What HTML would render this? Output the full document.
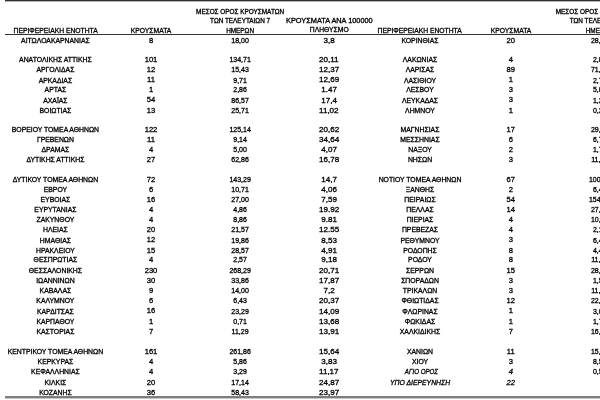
<!DOCTYPE html>
<html><head><meta charset="utf-8"><style>
html,body{margin:0;padding:0;background:#fff;}
body{filter:grayscale(1) blur(0.35px);width:600px;height:400px;overflow:hidden;position:relative;font-family:"Liberation Sans",sans-serif;color:#000;}
.t{position:absolute;width:300px;text-align:center;line-height:0;white-space:nowrap;height:0;}
.t span{display:inline-block;transform-origin:50% 50%;-webkit-text-stroke:0.3px #000;}
.i{font-style:italic;}
.ln{position:absolute;left:5px;right:0;}
</style></head><body>
<div class="ln" style="top:0;height:1px;background:#2e2e2e"></div>
<div class="ln" style="top:1px;height:1px;background:#b8b8b8"></div>
<div class="ln" style="top:34px;height:1px;background:#333"></div>
<div class="ln" style="top:396px;height:2px;background:#7e7e7e"></div>
<div class="ln" style="top:398px;height:1px;background:#c8c8c8"></div>
<div class="t" style="left:-94.60px;top:30.58px;font-size:6.7px"><span style="transform:scaleX(1.01)">ΠΕΡΙΦΕΡΕΙΑΚΗ ΕΝΟΤΗΤΑ</span></div>
<div class="t" style="left:1.00px;top:30.58px;font-size:6.7px"><span style="transform:scaleX(1.01)">ΚΡΟΥΣΜΑΤΑ</span></div>
<div class="t" style="left:90.10px;top:11.88px;font-size:6.4px"><span>ΜΕΣΟΣ ΟΡΟΣ ΚΡΟΥΣΜΑΤΩΝ</span></div>
<div class="t" style="left:90.10px;top:21.38px;font-size:6.4px"><span>ΤΩΝ ΤΕΛΕΥΤΑΙΩΝ 7</span></div>
<div class="t" style="left:90.10px;top:30.58px;font-size:6.4px"><span>ΗΜΕΡΩΝ</span></div>
<div class="t" style="left:179.30px;top:21.28px;font-size:6.7px"><span style="transform:scaleX(1.1)">ΚΡΟΥΣΜΑΤΑ ΑΝΑ 100000</span></div>
<div class="t" style="left:179.30px;top:30.48px;font-size:6.7px"><span style="transform:scaleX(1.01)">ΠΛΗΘΥΣΜΟ</span></div>
<div class="t" style="left:270.00px;top:30.58px;font-size:6.7px"><span style="transform:scaleX(1.01)">ΠΕΡΙΦΕΡΕΙΑΚΗ ΕΝΟΤΗΤΑ</span></div>
<div class="t" style="left:360.80px;top:30.58px;font-size:6.7px"><span style="transform:scaleX(1.01)">ΚΡΟΥΣΜΑΤΑ</span></div>
<div class="t" style="left:449.70px;top:11.88px;font-size:6.4px"><span>ΜΕΣΟΣ ΟΡΟΣ ΚΡΟΥΣΜΑΤΩΝ</span></div>
<div class="t" style="left:449.70px;top:21.38px;font-size:6.4px"><span>ΤΩΝ ΤΕΛΕΥΤΑΙΩΝ 7</span></div>
<div class="t" style="left:449.70px;top:30.58px;font-size:6.4px"><span>ΗΜΕΡΩΝ</span></div>
<div class="t" style="left:-94.60px;top:40.93px;font-size:6.85px"><span>ΑΙΤΩΛΟΑΚΑΡΝΑΝΙΑΣ</span></div>
<div class="t" style="left:1.00px;top:40.67px;font-size:7.6px"><span>8</span></div>
<div class="t" style="left:90.10px;top:40.87px;font-size:7.0px"><span>18,00</span></div>
<div class="t" style="left:179.30px;top:40.79px;font-size:7.25px"><span style="transform:scaleX(1.11)">3,8</span></div>
<div class="t" style="left:-94.60px;top:60.13px;font-size:6.85px"><span>ΑΝΑΤΟΛΙΚΗΣ ΑΤΤΙΚΗΣ</span></div>
<div class="t" style="left:1.00px;top:59.87px;font-size:7.6px"><span>101</span></div>
<div class="t" style="left:90.10px;top:60.07px;font-size:7.0px"><span>134,71</span></div>
<div class="t" style="left:179.30px;top:59.99px;font-size:7.25px"><span style="transform:scaleX(1.11)">20,11</span></div>
<div class="t" style="left:-94.60px;top:70.43px;font-size:6.85px"><span>ΑΡΓΟΛΙΔΑΣ</span></div>
<div class="t" style="left:1.00px;top:70.17px;font-size:7.6px"><span>12</span></div>
<div class="t" style="left:90.10px;top:70.37px;font-size:7.0px"><span>15,43</span></div>
<div class="t" style="left:179.30px;top:70.29px;font-size:7.25px"><span style="transform:scaleX(1.11)">12,37</span></div>
<div class="t" style="left:-94.60px;top:80.63px;font-size:6.85px"><span>ΑΡΚΑΔΙΑΣ</span></div>
<div class="t" style="left:1.00px;top:80.37px;font-size:7.6px"><span>11</span></div>
<div class="t" style="left:90.10px;top:80.57px;font-size:7.0px"><span>9,71</span></div>
<div class="t" style="left:179.30px;top:80.49px;font-size:7.25px"><span style="transform:scaleX(1.11)">12,69</span></div>
<div class="t" style="left:-94.60px;top:90.43px;font-size:6.85px"><span>ΑΡΤΑΣ</span></div>
<div class="t" style="left:1.00px;top:90.17px;font-size:7.6px"><span>1</span></div>
<div class="t" style="left:90.10px;top:90.37px;font-size:7.0px"><span>2,86</span></div>
<div class="t" style="left:179.30px;top:90.29px;font-size:7.25px"><span style="transform:scaleX(1.11)">1.47</span></div>
<div class="t" style="left:-94.60px;top:100.73px;font-size:6.85px"><span>ΑΧΑΪΑΣ</span></div>
<div class="t" style="left:1.00px;top:100.47px;font-size:7.6px"><span>54</span></div>
<div class="t" style="left:90.10px;top:100.67px;font-size:7.0px"><span>86,57</span></div>
<div class="t" style="left:179.30px;top:100.59px;font-size:7.25px"><span style="transform:scaleX(1.11)">17,4</span></div>
<div class="t" style="left:-94.60px;top:110.83px;font-size:6.85px"><span>ΒΟΙΩΤΙΑΣ</span></div>
<div class="t" style="left:1.00px;top:110.57px;font-size:7.6px"><span>13</span></div>
<div class="t" style="left:90.10px;top:110.77px;font-size:7.0px"><span>25,71</span></div>
<div class="t" style="left:179.30px;top:110.69px;font-size:7.25px"><span style="transform:scaleX(1.11)">11,02</span></div>
<div class="t" style="left:-94.60px;top:130.28px;font-size:6.85px"><span>ΒΟΡΕΙΟΥ ΤΟΜΕΑ ΑΘΗΝΩΝ</span></div>
<div class="t" style="left:1.00px;top:130.02px;font-size:7.6px"><span>122</span></div>
<div class="t" style="left:90.10px;top:130.22px;font-size:7.0px"><span>125,14</span></div>
<div class="t" style="left:179.30px;top:130.14px;font-size:7.25px"><span style="transform:scaleX(1.11)">20,62</span></div>
<div class="t" style="left:-94.60px;top:140.13px;font-size:6.85px"><span>ΓΡΕΒΕΝΩΝ</span></div>
<div class="t" style="left:1.00px;top:139.87px;font-size:7.6px"><span>11</span></div>
<div class="t" style="left:90.10px;top:140.07px;font-size:7.0px"><span>9,14</span></div>
<div class="t" style="left:179.30px;top:139.99px;font-size:7.25px"><span style="transform:scaleX(1.11)">34,64</span></div>
<div class="t" style="left:-94.60px;top:150.13px;font-size:6.85px"><span>ΔΡΑΜΑΣ</span></div>
<div class="t" style="left:1.00px;top:149.87px;font-size:7.6px"><span>4</span></div>
<div class="t" style="left:90.10px;top:150.07px;font-size:7.0px"><span>5,00</span></div>
<div class="t" style="left:179.30px;top:149.99px;font-size:7.25px"><span style="transform:scaleX(1.11)">4,07</span></div>
<div class="t" style="left:-94.60px;top:160.13px;font-size:6.85px"><span>ΔΥΤΙΚΗΣ ΑΤΤΙΚΗΣ</span></div>
<div class="t" style="left:1.00px;top:159.87px;font-size:7.6px"><span>27</span></div>
<div class="t" style="left:90.10px;top:160.07px;font-size:7.0px"><span>62,86</span></div>
<div class="t" style="left:179.30px;top:159.99px;font-size:7.25px"><span style="transform:scaleX(1.11)">16,78</span></div>
<div class="t" style="left:-94.60px;top:180.18px;font-size:6.85px"><span>ΔΥΤΙΚΟΥ ΤΟΜΕΑ ΑΘΗΝΩΝ</span></div>
<div class="t" style="left:1.00px;top:179.92px;font-size:7.6px"><span>72</span></div>
<div class="t" style="left:90.10px;top:180.12px;font-size:7.0px"><span>143,29</span></div>
<div class="t" style="left:179.30px;top:180.04px;font-size:7.25px"><span style="transform:scaleX(1.11)">14,7</span></div>
<div class="t" style="left:-94.60px;top:190.43px;font-size:6.85px"><span>ΕΒΡΟΥ</span></div>
<div class="t" style="left:1.00px;top:190.17px;font-size:7.6px"><span>6</span></div>
<div class="t" style="left:90.10px;top:190.37px;font-size:7.0px"><span>10,71</span></div>
<div class="t" style="left:179.30px;top:190.29px;font-size:7.25px"><span style="transform:scaleX(1.11)">4,06</span></div>
<div class="t" style="left:-94.60px;top:200.43px;font-size:6.85px"><span>ΕΥΒΟΙΑΣ</span></div>
<div class="t" style="left:1.00px;top:200.17px;font-size:7.6px"><span>16</span></div>
<div class="t" style="left:90.10px;top:200.37px;font-size:7.0px"><span>27,00</span></div>
<div class="t" style="left:179.30px;top:200.29px;font-size:7.25px"><span style="transform:scaleX(1.11)">7,59</span></div>
<div class="t" style="left:-94.60px;top:209.93px;font-size:6.85px"><span>ΕΥΡΥΤΑΝΙΑΣ</span></div>
<div class="t" style="left:1.00px;top:209.67px;font-size:7.6px"><span>4</span></div>
<div class="t" style="left:90.10px;top:209.87px;font-size:7.0px"><span>4,86</span></div>
<div class="t" style="left:179.30px;top:209.79px;font-size:7.25px"><span style="transform:scaleX(1.11)">19.92</span></div>
<div class="t" style="left:-94.60px;top:219.93px;font-size:6.85px"><span>ΖΑΚΥΝΘΟΥ</span></div>
<div class="t" style="left:1.00px;top:219.67px;font-size:7.6px"><span>4</span></div>
<div class="t" style="left:90.10px;top:219.87px;font-size:7.0px"><span>8,86</span></div>
<div class="t" style="left:179.30px;top:219.79px;font-size:7.25px"><span style="transform:scaleX(1.11)">9.81</span></div>
<div class="t" style="left:-94.60px;top:229.93px;font-size:6.85px"><span>ΗΛΕΙΑΣ</span></div>
<div class="t" style="left:1.00px;top:229.67px;font-size:7.6px"><span>20</span></div>
<div class="t" style="left:90.10px;top:229.87px;font-size:7.0px"><span>21,57</span></div>
<div class="t" style="left:179.30px;top:229.79px;font-size:7.25px"><span style="transform:scaleX(1.11)">12.55</span></div>
<div class="t" style="left:-94.60px;top:240.73px;font-size:6.85px"><span>ΗΜΑΘΙΑΣ</span></div>
<div class="t" style="left:1.00px;top:240.47px;font-size:7.6px"><span>12</span></div>
<div class="t" style="left:90.10px;top:240.67px;font-size:7.0px"><span>19,86</span></div>
<div class="t" style="left:179.30px;top:240.59px;font-size:7.25px"><span style="transform:scaleX(1.11)">8,53</span></div>
<div class="t" style="left:-94.60px;top:251.13px;font-size:6.85px"><span>ΗΡΑΚΛΕΙΟΥ</span></div>
<div class="t" style="left:1.00px;top:250.87px;font-size:7.6px"><span>15</span></div>
<div class="t" style="left:90.10px;top:251.07px;font-size:7.0px"><span>28,57</span></div>
<div class="t" style="left:179.30px;top:250.99px;font-size:7.25px"><span style="transform:scaleX(1.11)">4,91</span></div>
<div class="t" style="left:-94.60px;top:260.43px;font-size:6.85px"><span>ΘΕΣΠΡΩΤΙΑΣ</span></div>
<div class="t" style="left:1.00px;top:260.17px;font-size:7.6px"><span>4</span></div>
<div class="t" style="left:90.10px;top:260.37px;font-size:7.0px"><span>2,57</span></div>
<div class="t" style="left:179.30px;top:260.29px;font-size:7.25px"><span style="transform:scaleX(1.11)">9,18</span></div>
<div class="t" style="left:-94.60px;top:271.03px;font-size:6.85px"><span>ΘΕΣΣΑΛΟΝΙΚΗΣ</span></div>
<div class="t" style="left:1.00px;top:270.77px;font-size:7.6px"><span>230</span></div>
<div class="t" style="left:90.10px;top:270.97px;font-size:7.0px"><span>268,29</span></div>
<div class="t" style="left:179.30px;top:270.89px;font-size:7.25px"><span style="transform:scaleX(1.11)">20,71</span></div>
<div class="t" style="left:-94.60px;top:281.23px;font-size:6.85px"><span>ΙΩΑΝΝΙΝΩΝ</span></div>
<div class="t" style="left:1.00px;top:280.97px;font-size:7.6px"><span>30</span></div>
<div class="t" style="left:90.10px;top:281.17px;font-size:7.0px"><span>33,86</span></div>
<div class="t" style="left:179.30px;top:281.09px;font-size:7.25px"><span style="transform:scaleX(1.11)">17,87</span></div>
<div class="t" style="left:-94.60px;top:291.43px;font-size:6.85px"><span>ΚΑΒΑΛΑΣ</span></div>
<div class="t" style="left:1.00px;top:291.17px;font-size:7.6px"><span>9</span></div>
<div class="t" style="left:90.10px;top:291.37px;font-size:7.0px"><span>14,00</span></div>
<div class="t" style="left:179.30px;top:291.29px;font-size:7.25px"><span style="transform:scaleX(1.11)">7,2</span></div>
<div class="t" style="left:-94.60px;top:301.43px;font-size:6.85px"><span>ΚΑΛΥΜΝΟΥ</span></div>
<div class="t" style="left:1.00px;top:301.17px;font-size:7.6px"><span>6</span></div>
<div class="t" style="left:90.10px;top:301.37px;font-size:7.0px"><span>6,43</span></div>
<div class="t" style="left:179.30px;top:301.29px;font-size:7.25px"><span style="transform:scaleX(1.11)">20,37</span></div>
<div class="t" style="left:-94.60px;top:311.73px;font-size:6.85px"><span>ΚΑΡΔΙΤΣΑΣ</span></div>
<div class="t" style="left:1.00px;top:311.47px;font-size:7.6px"><span>16</span></div>
<div class="t" style="left:90.10px;top:311.67px;font-size:7.0px"><span>23,29</span></div>
<div class="t" style="left:179.30px;top:311.59px;font-size:7.25px"><span style="transform:scaleX(1.11)">14,09</span></div>
<div class="t" style="left:-94.60px;top:321.93px;font-size:6.85px"><span>ΚΑΡΠΑΘΟΥ</span></div>
<div class="t" style="left:1.00px;top:321.67px;font-size:7.6px"><span>1</span></div>
<div class="t" style="left:90.10px;top:321.87px;font-size:7.0px"><span>0,71</span></div>
<div class="t" style="left:179.30px;top:321.79px;font-size:7.25px"><span style="transform:scaleX(1.11)">13,68</span></div>
<div class="t" style="left:-94.60px;top:332.43px;font-size:6.85px"><span>ΚΑΣΤΟΡΙΑΣ</span></div>
<div class="t" style="left:1.00px;top:332.17px;font-size:7.6px"><span>7</span></div>
<div class="t" style="left:90.10px;top:332.37px;font-size:7.0px"><span>11,29</span></div>
<div class="t" style="left:179.30px;top:332.29px;font-size:7.25px"><span style="transform:scaleX(1.11)">13,91</span></div>
<div class="t" style="left:-94.60px;top:352.13px;font-size:6.85px"><span>ΚΕΝΤΡΙΚΟΥ ΤΟΜΕΑ ΑΘΗΝΩΝ</span></div>
<div class="t" style="left:1.00px;top:351.87px;font-size:7.6px"><span>161</span></div>
<div class="t" style="left:90.10px;top:352.07px;font-size:7.0px"><span>261,86</span></div>
<div class="t" style="left:179.30px;top:351.99px;font-size:7.25px"><span style="transform:scaleX(1.11)">15,64</span></div>
<div class="t" style="left:-94.60px;top:361.93px;font-size:6.85px"><span>ΚΕΡΚΥΡΑΣ</span></div>
<div class="t" style="left:1.00px;top:361.67px;font-size:7.6px"><span>4</span></div>
<div class="t" style="left:90.10px;top:361.87px;font-size:7.0px"><span>5,86</span></div>
<div class="t" style="left:179.30px;top:361.79px;font-size:7.25px"><span style="transform:scaleX(1.11)">3,83</span></div>
<div class="t" style="left:-94.60px;top:372.03px;font-size:6.85px"><span>ΚΕΦΑΛΛΗΝΙΑΣ</span></div>
<div class="t" style="left:1.00px;top:371.77px;font-size:7.6px"><span>4</span></div>
<div class="t" style="left:90.10px;top:371.97px;font-size:7.0px"><span>3,29</span></div>
<div class="t" style="left:179.30px;top:371.89px;font-size:7.25px"><span style="transform:scaleX(1.11)">11,17</span></div>
<div class="t" style="left:-94.60px;top:383.03px;font-size:6.85px"><span>ΚΙΛΚΙΣ</span></div>
<div class="t" style="left:1.00px;top:382.77px;font-size:7.6px"><span>20</span></div>
<div class="t" style="left:90.10px;top:382.97px;font-size:7.0px"><span>17,14</span></div>
<div class="t" style="left:179.30px;top:382.89px;font-size:7.25px"><span style="transform:scaleX(1.11)">24,87</span></div>
<div class="t" style="left:-94.60px;top:393.23px;font-size:6.85px"><span>ΚΟΖΑΝΗΣ</span></div>
<div class="t" style="left:1.00px;top:392.97px;font-size:7.6px"><span>36</span></div>
<div class="t" style="left:90.10px;top:393.17px;font-size:7.0px"><span>58,43</span></div>
<div class="t" style="left:179.30px;top:393.09px;font-size:7.25px"><span style="transform:scaleX(1.11)">23,97</span></div>
<div class="t" style="left:270.00px;top:40.93px;font-size:6.85px"><span>ΚΟΡΙΝΘΙΑΣ</span></div>
<div class="t" style="left:360.80px;top:40.67px;font-size:7.6px"><span>20</span></div>
<div class="t" style="left:449.70px;top:40.87px;font-size:7.0px"><span>28,57</span></div>
<div class="t" style="left:270.00px;top:60.13px;font-size:6.85px"><span>ΛΑΚΩΝΙΑΣ</span></div>
<div class="t" style="left:360.80px;top:59.87px;font-size:7.6px"><span>4</span></div>
<div class="t" style="left:449.70px;top:60.07px;font-size:7.0px"><span>2,86</span></div>
<div class="t" style="left:270.00px;top:70.43px;font-size:6.85px"><span>ΛΑΡΙΣΑΣ</span></div>
<div class="t" style="left:360.80px;top:70.17px;font-size:7.6px"><span>89</span></div>
<div class="t" style="left:449.70px;top:70.37px;font-size:7.0px"><span>71,57</span></div>
<div class="t" style="left:270.00px;top:80.63px;font-size:6.85px"><span>ΛΑΣΙΘΙΟΥ</span></div>
<div class="t" style="left:360.80px;top:80.37px;font-size:7.6px"><span>1</span></div>
<div class="t" style="left:449.70px;top:80.57px;font-size:7.0px"><span>2,71</span></div>
<div class="t" style="left:270.00px;top:90.43px;font-size:6.85px"><span>ΛΕΣΒΟΥ</span></div>
<div class="t" style="left:360.80px;top:90.17px;font-size:7.6px"><span>3</span></div>
<div class="t" style="left:449.70px;top:90.37px;font-size:7.0px"><span>5,86</span></div>
<div class="t" style="left:270.00px;top:100.73px;font-size:6.85px"><span>ΛΕΥΚΑΔΑΣ</span></div>
<div class="t" style="left:360.80px;top:100.47px;font-size:7.6px"><span>3</span></div>
<div class="t" style="left:449.70px;top:100.67px;font-size:7.0px"><span>1,29</span></div>
<div class="t" style="left:270.00px;top:110.83px;font-size:6.85px"><span>ΛΗΜΝΟΥ</span></div>
<div class="t" style="left:360.80px;top:110.57px;font-size:7.6px"><span>1</span></div>
<div class="t" style="left:449.70px;top:110.77px;font-size:7.0px"><span>0,29</span></div>
<div class="t" style="left:270.00px;top:130.28px;font-size:6.85px"><span>ΜΑΓΝΗΣΙΑΣ</span></div>
<div class="t" style="left:360.80px;top:130.02px;font-size:7.6px"><span>17</span></div>
<div class="t" style="left:449.70px;top:130.22px;font-size:7.0px"><span>29,57</span></div>
<div class="t" style="left:270.00px;top:140.13px;font-size:6.85px"><span>ΜΕΣΣΗΝΙΑΣ</span></div>
<div class="t" style="left:360.80px;top:139.87px;font-size:7.6px"><span>6</span></div>
<div class="t" style="left:449.70px;top:140.07px;font-size:7.0px"><span>6,71</span></div>
<div class="t" style="left:270.00px;top:150.13px;font-size:6.85px"><span>ΝΑΞΟΥ</span></div>
<div class="t" style="left:360.80px;top:149.87px;font-size:7.6px"><span>2</span></div>
<div class="t" style="left:449.70px;top:150.07px;font-size:7.0px"><span>1,71</span></div>
<div class="t" style="left:270.00px;top:160.13px;font-size:6.85px"><span>ΝΗΣΩΝ</span></div>
<div class="t" style="left:360.80px;top:159.87px;font-size:7.6px"><span>3</span></div>
<div class="t" style="left:449.70px;top:160.07px;font-size:7.0px"><span>11,71</span></div>
<div class="t" style="left:270.00px;top:180.18px;font-size:6.85px"><span>ΝΟΤΙΟΥ ΤΟΜΕΑ ΑΘΗΝΩΝ</span></div>
<div class="t" style="left:360.80px;top:179.92px;font-size:7.6px"><span>67</span></div>
<div class="t" style="left:449.70px;top:180.12px;font-size:7.0px"><span>100,86</span></div>
<div class="t" style="left:270.00px;top:190.43px;font-size:6.85px"><span>ΞΑΝΘΗΣ</span></div>
<div class="t" style="left:360.80px;top:190.17px;font-size:7.6px"><span>2</span></div>
<div class="t" style="left:449.70px;top:190.37px;font-size:7.0px"><span>6,43</span></div>
<div class="t" style="left:270.00px;top:200.43px;font-size:6.85px"><span>ΠΕΙΡΑΙΩΣ</span></div>
<div class="t" style="left:360.80px;top:200.17px;font-size:7.6px"><span>54</span></div>
<div class="t" style="left:449.70px;top:200.37px;font-size:7.0px"><span>154,57</span></div>
<div class="t" style="left:270.00px;top:209.93px;font-size:6.85px"><span>ΠΕΛΛΑΣ</span></div>
<div class="t" style="left:360.80px;top:209.67px;font-size:7.6px"><span>14</span></div>
<div class="t" style="left:449.70px;top:209.87px;font-size:7.0px"><span>27,14</span></div>
<div class="t" style="left:270.00px;top:219.93px;font-size:6.85px"><span>ΠΙΕΡΙΑΣ</span></div>
<div class="t" style="left:360.80px;top:219.67px;font-size:7.6px"><span>4</span></div>
<div class="t" style="left:449.70px;top:219.87px;font-size:7.0px"><span>10,43</span></div>
<div class="t" style="left:270.00px;top:229.93px;font-size:6.85px"><span>ΠΡΕΒΕΖΑΣ</span></div>
<div class="t" style="left:360.80px;top:229.67px;font-size:7.6px"><span>4</span></div>
<div class="t" style="left:449.70px;top:229.87px;font-size:7.0px"><span>2,14</span></div>
<div class="t" style="left:270.00px;top:240.73px;font-size:6.85px"><span>ΡΕΘΥΜΝΟΥ</span></div>
<div class="t" style="left:360.80px;top:240.47px;font-size:7.6px"><span>3</span></div>
<div class="t" style="left:449.70px;top:240.67px;font-size:7.0px"><span>6,43</span></div>
<div class="t" style="left:270.00px;top:251.13px;font-size:6.85px"><span>ΡΟΔΟΠΗΣ</span></div>
<div class="t" style="left:360.80px;top:250.87px;font-size:7.6px"><span>8</span></div>
<div class="t" style="left:449.70px;top:251.07px;font-size:7.0px"><span>4,43</span></div>
<div class="t" style="left:270.00px;top:260.43px;font-size:6.85px"><span>ΡΟΔΟΥ</span></div>
<div class="t" style="left:360.80px;top:260.17px;font-size:7.6px"><span>8</span></div>
<div class="t" style="left:449.70px;top:260.37px;font-size:7.0px"><span>11,57</span></div>
<div class="t" style="left:270.00px;top:271.03px;font-size:6.85px"><span>ΣΕΡΡΩΝ</span></div>
<div class="t" style="left:360.80px;top:270.77px;font-size:7.6px"><span>15</span></div>
<div class="t" style="left:449.70px;top:270.97px;font-size:7.0px"><span>28,86</span></div>
<div class="t" style="left:270.00px;top:281.23px;font-size:6.85px"><span>ΣΠΟΡΑΔΩΝ</span></div>
<div class="t" style="left:360.80px;top:280.97px;font-size:7.6px"><span>3</span></div>
<div class="t" style="left:449.70px;top:281.17px;font-size:7.0px"><span>1,57</span></div>
<div class="t" style="left:270.00px;top:291.43px;font-size:6.85px"><span>ΤΡΙΚΑΛΩΝ</span></div>
<div class="t" style="left:360.80px;top:291.17px;font-size:7.6px"><span>3</span></div>
<div class="t" style="left:449.70px;top:291.37px;font-size:7.0px"><span>11,14</span></div>
<div class="t" style="left:270.00px;top:301.43px;font-size:6.85px"><span>ΦΘΙΩΤΙΔΑΣ</span></div>
<div class="t" style="left:360.80px;top:301.17px;font-size:7.6px"><span>12</span></div>
<div class="t" style="left:449.70px;top:301.37px;font-size:7.0px"><span>22,86</span></div>
<div class="t" style="left:270.00px;top:311.73px;font-size:6.85px"><span>ΦΛΩΡΙΝΑΣ</span></div>
<div class="t" style="left:360.80px;top:311.47px;font-size:7.6px"><span>1</span></div>
<div class="t" style="left:449.70px;top:311.67px;font-size:7.0px"><span>3,00</span></div>
<div class="t" style="left:270.00px;top:321.93px;font-size:6.85px"><span>ΦΩΚΙΔΑΣ</span></div>
<div class="t" style="left:360.80px;top:321.67px;font-size:7.6px"><span>1</span></div>
<div class="t" style="left:449.70px;top:321.87px;font-size:7.0px"><span>1,71</span></div>
<div class="t" style="left:270.00px;top:332.43px;font-size:6.85px"><span>ΧΑΛΚΙΔΙΚΗΣ</span></div>
<div class="t" style="left:360.80px;top:332.17px;font-size:7.6px"><span>7</span></div>
<div class="t" style="left:449.70px;top:332.37px;font-size:7.0px"><span>16,14</span></div>
<div class="t" style="left:270.00px;top:352.13px;font-size:6.85px"><span>ΧΑΝΙΩΝ</span></div>
<div class="t" style="left:360.80px;top:351.87px;font-size:7.6px"><span>11</span></div>
<div class="t" style="left:449.70px;top:352.07px;font-size:7.0px"><span>15,71</span></div>
<div class="t" style="left:270.00px;top:361.93px;font-size:6.85px"><span>ΧΙΟΥ</span></div>
<div class="t" style="left:360.80px;top:361.67px;font-size:7.6px"><span>3</span></div>
<div class="t" style="left:449.70px;top:361.87px;font-size:7.0px"><span>8,57</span></div>
<div class="t" style="left:271.30px;top:372.03px;font-size:6.85px"><span style="transform:scaleX(0.9)" class="i">ΑΓΙΟ ΟΡΟΣ</span></div>
<div class="t" style="left:360.80px;top:371.77px;font-size:7.6px"><span class="i">4</span></div>
<div class="t" style="left:449.70px;top:371.97px;font-size:7.0px"><span>0,57</span></div>
<div class="t" style="left:270.00px;top:383.03px;font-size:6.85px"><span class="i">ΥΠΟ ΔΙΕΡΕΥΝΗΣΗ</span></div>
<div class="t" style="left:360.80px;top:382.77px;font-size:7.6px"><span class="i">22</span></div>
</body></html>
